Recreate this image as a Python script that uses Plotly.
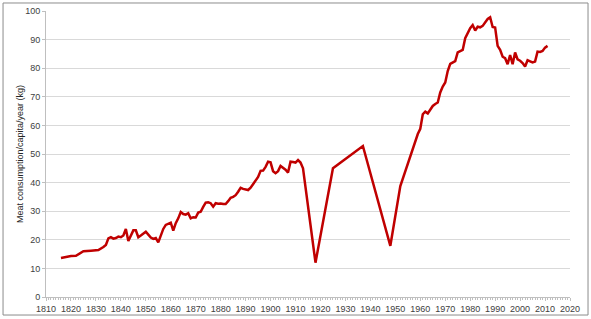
import plotly.graph_objects as go

years = [1816, 1818, 1820, 1822, 1824, 1825, 1828, 1831, 1833, 1834,
         1835, 1836, 1837, 1838, 1839, 1840, 1841, 1842, 1843, 1844,
         1845, 1846, 1847, 1848, 1849, 1850, 1851, 1852, 1853, 1854,
         1855, 1856, 1857, 1858, 1859, 1860, 1861, 1862, 1863, 1864,
         1865, 1866, 1867, 1868, 1869, 1870, 1871, 1872, 1873, 1874,
         1875, 1876, 1877, 1878, 1879, 1880, 1881, 1882, 1883, 1884,
         1885, 1886, 1887, 1888, 1889, 1890, 1891, 1892, 1893, 1894,
         1895, 1896, 1897, 1898, 1899, 1900, 1901, 1902, 1903, 1904,
         1905, 1906, 1907, 1908, 1909, 1910, 1911, 1912, 1913, 1918,
         1925, 1937, 1948, 1952, 1959, 1960, 1961, 1962, 1963, 1964,
         1965, 1966, 1967, 1968, 1969, 1970, 1971, 1972, 1973, 1974,
         1975, 1976, 1977, 1978, 1979, 1980, 1981, 1982, 1983, 1984,
         1985, 1986, 1987, 1988, 1989, 1990, 1991, 1992, 1993, 1994,
         1995, 1996, 1997, 1998, 1999, 2000, 2001, 2002, 2003, 2004,
         2005, 2006, 2007, 2008, 2009, 2010, 2011]

meat_kg = [13.6, 14.0, 14.3, 14.4, 15.6, 16.0, 16.2, 16.4, 17.5, 18.2,
           20.5, 20.9, 20.4, 20.6, 21.1, 20.9, 21.5, 23.8, 19.6, 21.8,
           23.3, 23.3, 20.9, 21.5, 22.3, 22.8, 21.8, 20.8, 20.3, 20.6,
           19.1, 21.5, 23.8, 25.2, 25.6, 26.0, 23.2, 25.8, 27.5, 29.7,
           29.0, 28.8, 29.3, 27.5, 27.9, 27.8, 29.5, 29.8, 31.5, 33.0,
           33.1, 32.8, 31.6, 32.8, 32.6, 32.7, 32.5, 32.5, 33.5, 34.7,
           35.0, 35.6, 36.8, 38.2, 37.8, 37.5, 37.4, 38.2, 39.5, 40.6,
           42.0, 44.1, 44.2, 45.5, 47.3, 47.1, 44.0, 43.3, 44.0, 45.8,
           45.2, 44.5, 43.5, 47.3, 47.2, 47.0, 47.9, 47.0, 45.0, 12.0,
           45.0, 52.8, 17.9, 38.8, 57.0, 58.8, 63.9, 64.8, 64.2, 65.5,
           66.8, 67.5, 68.0, 71.5, 73.6, 75.0, 79.0, 81.5, 82.0, 82.5,
           85.5, 86.0, 86.4, 90.5, 92.5, 94.0, 95.1, 93.2, 94.5, 94.3,
           94.8, 96.0, 97.2, 97.8, 94.4, 94.2, 87.8, 86.4, 84.0, 83.5,
           81.4, 84.6, 81.4, 85.5, 83.1, 82.6, 81.8, 80.6, 82.8, 82.4,
           82.0, 82.3, 85.8, 85.7, 86.0, 87.2, 87.8]

x_ticks = list(range(1810, 2021, 10))
y_ticks = list(range(0, 101, 10))
y_title = "Meat consumption/capita/year (kg)"

fig = go.Figure()
fig.add_trace(go.Scatter(
    x=years, y=meat_kg, mode="lines",
    line=dict(color="#C00000", width=2.5),
    hoverinfo="x+y", showlegend=False,
))

font = dict(family="Liberation Sans, Arial, sans-serif", size=9, color="#404040")

fig.update_layout(
    width=591, height=319, autosize=False,
    margin=dict(l=46, r=21, t=11, b=22, pad=0, autoexpand=False),
    paper_bgcolor="white", plot_bgcolor="white",
    font=font,
    xaxis=dict(
        range=[1810, 2020], tickvals=x_ticks, ticktext=[str(v) for v in x_ticks],
        showgrid=False, zeroline=False, automargin=False,
        showline=True, linecolor="#BFBFBF", linewidth=1,
        ticks="outside", ticklen=3, tickcolor="#BFBFBF",
        minor=dict(dtick=1, tick0=1810, ticks="outside", ticklen=2, tickcolor="#BFBFBF"),
        tickfont=font,
    ),
    yaxis=dict(
        range=[0, 100], tickvals=y_ticks,
        showgrid=True, gridcolor="#D9D9D9", gridwidth=1,
        zeroline=False, automargin=False,
        showline=True, linecolor="#BFBFBF", linewidth=1,
        ticks="outside", ticklen=3, tickcolor="#BFBFBF",
        tickfont=font,
    ),
    annotations=[dict(
        text=y_title, textangle=-90, xref="paper", yref="paper",
        x=-0.0496, y=0.5, xanchor="center", yanchor="middle",
        showarrow=False, font=dict(family="Liberation Sans, Arial, sans-serif", size=9, color="#262626"),
    )],
    shapes=[dict(
        type="rect", xref="paper", yref="paper",
        x0=-0.082, x1=1.0344, y0=-0.063, y1=1.028,
        line=dict(color="#8C8C8C", width=1), fillcolor="rgba(0,0,0,0)", layer="below",
    )],
)

fig.write_html("out.html")
